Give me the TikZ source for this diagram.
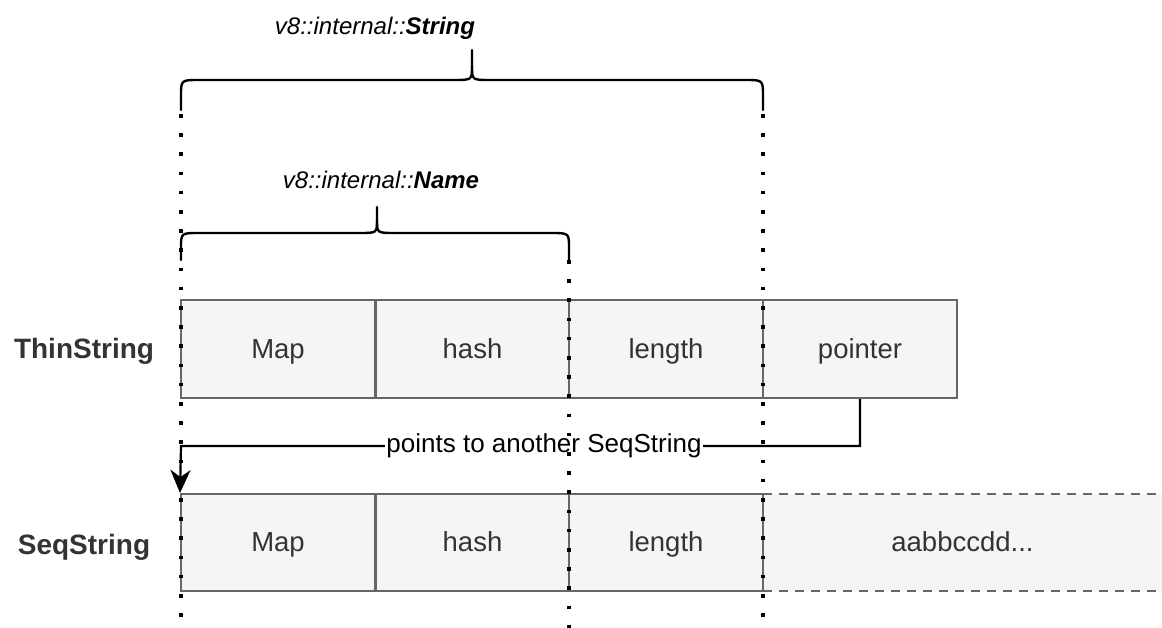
\documentclass[tikz,border=0pt]{standalone}
\usepackage{fontspec}
\setmainfont{Liberation Sans}
\usetikzlibrary{arrows.meta}
\definecolor{boxfill}{HTML}{F5F5F5}
\definecolor{boxline}{HTML}{666666}
\definecolor{txt}{HTML}{333333}
\begin{document}
\begin{tikzpicture}[x=1pt,y=-1pt,
  celltext/.style={text=txt,font=\fontsize{27.5}{32}\selectfont,text height=20pt,text depth=2pt},
  cell/.style={draw=boxline,fill=boxfill,line width=2pt,minimum width=194pt,minimum height=98pt,inner sep=0pt,celltext},
  rowlabel/.style={text=txt,font=\fontsize{28}{32}\selectfont\bfseries,inner sep=0pt,text height=20pt,text depth=2pt},
  title/.style={font=\fontsize{24}{28}\selectfont\itshape,inner sep=0pt},
  brace/.style={line width=2.4pt,line cap=round,line join=round},
  guide/.style={line width=3.6pt,dash pattern=on 3.6pt off 15.6pt},
  conn/.style={line width=2.2pt,-{Stealth[length=23pt,width=20pt,inset=7pt]}},
  dline/.style={draw=boxline,line width=2pt,dash pattern=on 9pt off 7pt}]
\path[use as bounding box] (0,0) rectangle (1162,628);

% titles
\node[title] (tstr) at (375,28) {v8::internal::\textbf{String}};
\node[title] (tname) at (381,180) {v8::internal::\textbf{Name}};

% braces
\draw[brace] (181,110) -- (181,96) .. controls (181,80) .. (199,80) -- (454,80) .. controls (472,80) .. (472,66) -- (472,50);
\draw[brace] (763,110) -- (763,96) .. controls (763,80) .. (745,80) -- (490,80) .. controls (472,80) .. (472,66);
\draw[brace] (181,260) -- (181,248) .. controls (181,233) .. (199,233) -- (359,233) .. controls (377,233) .. (377,220) -- (377,207);
\draw[brace] (569,260) -- (569,248) .. controls (569,233) .. (551,233) -- (395,233) .. controls (377,233) .. (377,220);

% row labels
\node[rowlabel] (lthin) at (84,350) {ThinString};
\node[rowlabel] (lseq) at (84,545) {SeqString};

% ThinString row
\node[cell] (tmap) at (278,349) {Map};
\node[cell] (thash) at (472.5,349) {hash};
\node[cell] (tlen) at (666,349) {length};
\node[cell] (tptr) at (860,349) {pointer};

% SeqString data (dashed)
\node[fill=boxfill,minimum width=399pt,minimum height=97pt,inner sep=0pt,celltext] (sdata) at (962.5,542.5) {aabbccdd...};
\draw[dline] (sdata.north west) -- (sdata.north east);
\draw[dline] (sdata.south west) -- (sdata.south east);
\draw[dline] (sdata.north west) -- (sdata.south west);

% SeqString row
\node[cell,minimum height=97pt] (smap) at (278,542.5) {Map};
\node[cell,minimum height=97pt] (shash) at (472.5,542.5) {hash};
\node[cell,minimum height=97pt] (slen) at (666,542.5) {length};

% connector
\coordinate (c1) at (860,446);
\coordinate (c2) at (181,446);
\draw[conn] (tptr.south) -- (c1) -- (c2) -- (smap.north west);
\node[fill=white,inner sep=1pt,font=\fontsize{26}{30}\selectfont] (clabel) at (544,446) {points to another SeqString};

% dotted guides
\draw[guide] (181,114) -- (181,628);
\draw[guide] (763,114) -- (763,628);
\draw[guide] (569,260) -- (569,628);
\end{tikzpicture}
\end{document}
